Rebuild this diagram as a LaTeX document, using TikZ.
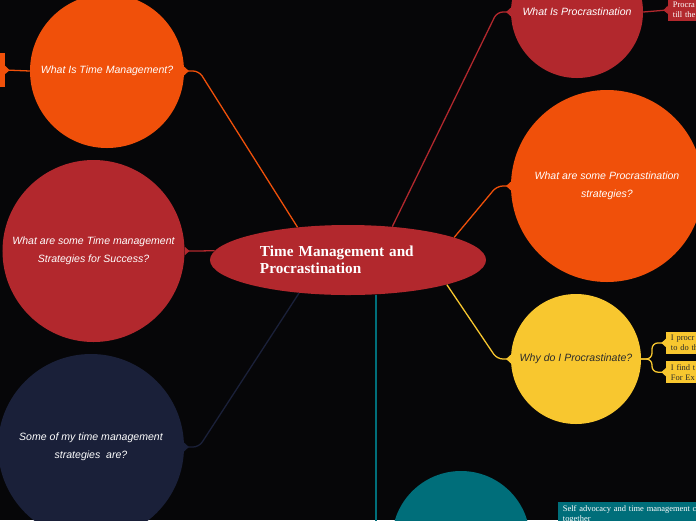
\documentclass[tikz,border=0pt]{standalone}
\usepackage{fontspec}
\setmainfont{Liberation Serif}
\setsansfont{Liberation Sans}
\usetikzlibrary{arrows.meta,shapes.geometric}

\definecolor{bgblack}{HTML}{060608}
\definecolor{mmorange}{HTML}{F0500A}
\definecolor{mmred}{HTML}{B2282D}
\definecolor{mmnavy}{HTML}{1A2039}
\definecolor{mmyellow}{HTML}{F8C72F}
\definecolor{mmteal}{HTML}{006E7A}
\definecolor{mmdark}{HTML}{2B2B2B}

\tikzset{
	topic/.style={circle, fill=#1, inner sep=0pt, align=center, text=white,
		font=\sffamily\itshape\fontsize{9}{15.3}\selectfont},
	leaf/.style={rectangle, fill=#1, anchor=north west, inner xsep=4pt, inner ysep=2.5pt,
		text width=5cm, align=left, text=white, font=\fontsize{7.2}{8.5}\selectfont},
	link/.style={draw=#1, line width=1.1pt, rounded corners=5pt,
		-{Triangle[reversed,length=4pt,width=7pt]}},
}

\begin{document}
\begin{tikzpicture}[x=0.03cm, y=-0.03cm]
			% Background
			\fill[bgblack] (0,0) rectangle (696,520);
			\useasboundingbox (0,0) rectangle (696,520);
			
			% Central topic
			\node[ellipse, fill=mmred, minimum width=8.28cm, minimum height=2.1cm, inner sep=0pt,
				text width=5.28cm, align=left, text=white,
				font=\bfseries\fontsize{13}{14.2}\selectfont] (main) at (348,260)
				{Time Management and\\Procrastination};
			
			% Main branches
			\node[topic=mmorange, minimum size=4.62cm] (whattm) at (107,71) {What Is Time Management?};
			\node[topic=mmred, minimum size=5.46cm] (tmstrat) at (93.5,251) {What are some Time management\\Strategies for Success?};
			\node[topic=mmnavy, minimum size=5.58cm] (mystrat) at (91,447) {Some of my time management\\strategies\ \ are?};
			\node[topic=mmred, minimum size=3.96cm] (whatproc) at (577,12) {What Is Procrastination};
			\node[topic=mmorange, minimum size=5.76cm] (procstrat) at (607,186) {What are some Procrastination\\strategies?};
			\node[topic=mmyellow, minimum size=3.9cm, text=mmdark] (whyproc) at (576,359) {Why do I Procrastinate?};
			\node[topic=mmteal, minimum size=4.14cm] (advocacy) at (461,540) {};
			
			% Details
			\node[fill=mmorange, minimum width=1cm, minimum height=1.02cm, inner sep=0pt, anchor=east] (tmdetail) at (5,70) {};
			\node[leaf=mmred] (procdef) at (668,-1) {Procra\\till the};
			\node[leaf=mmyellow, text=mmdark] (why1) at (666,332) {I procr\\to do th};
			\node[leaf=mmyellow, text=mmdark] (why2) at (666,361) {I find t\\For Ex};
			\node[leaf=mmteal] (selfadv) at (558,502) {Self advocacy and time management c\\together};
			
			% Bends
			\coordinate (k1) at (199,71);
			\coordinate (k2) at (198,251);
			\coordinate (k3) at (199,447);
			\coordinate (k4) at (497,12);
			\coordinate (k5) at (497,186);
			\coordinate (k6) at (497,359);
			\coordinate (fork) at (652,359);
			\coordinate (tdown) at (376,530);
			
			% Connectors
			\foreach \from/\via/\to/\col in {
				main.147/k1/whattm.east/mmorange,
				main.176/k2/tmstrat.east/mmred,
				main.-146/k3/mystrat.east/mmnavy,
				main.37/k4/whatproc.west/mmred,
				main.12/k5/procstrat.west/mmorange,
				main.-14/k6/whyproc.west/mmyellow} {
				\draw[link=\col] (\from) -- (\via) -- (\to);
			}
			\draw[link=mmorange] (whattm.west) -- (tmdetail.east);
			\draw[link=mmred] (whatproc.east) -- (procdef.west);
			\draw[link=mmyellow] (whyproc.east) -- (fork) |- (why1.west);
			\draw[link=mmyellow] (whyproc.east) -- (fork) |- (why2.west);
			\draw[draw=mmteal, line width=1.1pt] (main.-51) -- (main.-51 |- tdown);
		\end{tikzpicture}
\end{document}
